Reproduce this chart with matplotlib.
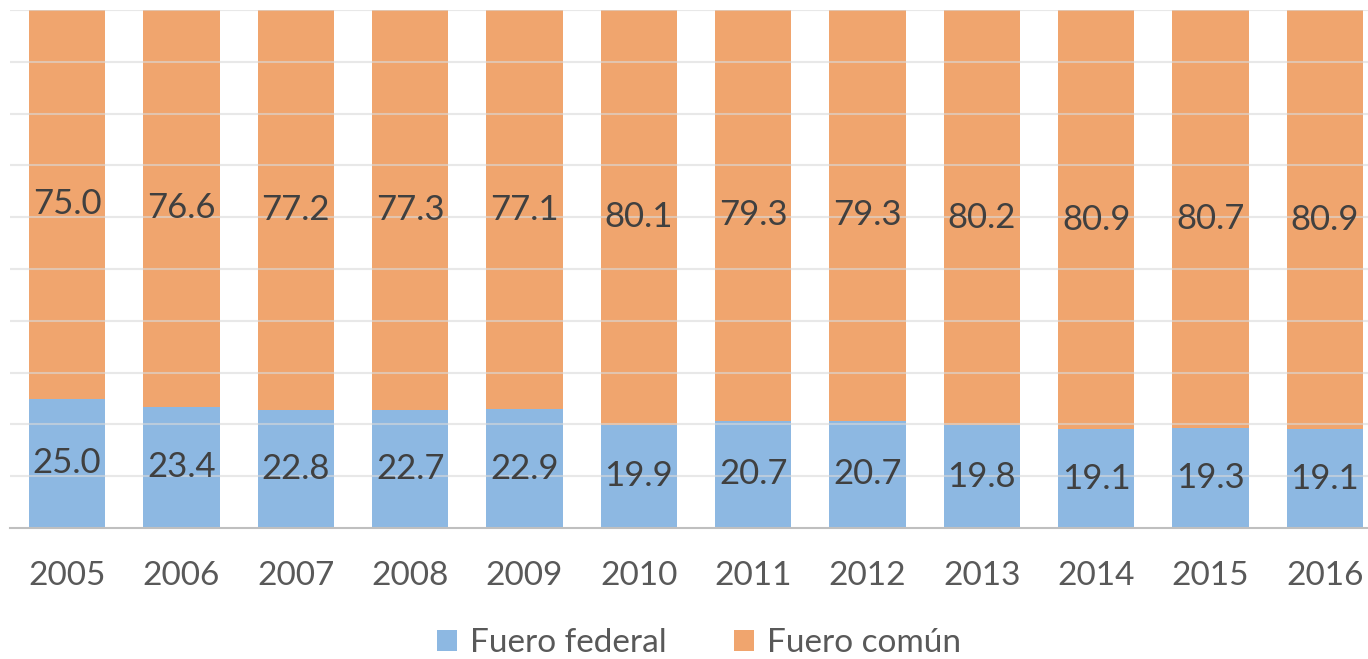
import matplotlib.pyplot as plt
import numpy as np

## datos
years = ['2005', '2006', '2007', '2008', '2009', '2010',
         '2011', '2012', '2013', '2014', '2015', '2016']
federal = [25.0, 23.4, 22.8, 22.7, 22.9, 19.9, 20.7, 20.7, 19.8, 19.1, 19.3, 19.1]
comun = [75.0, 76.6, 77.2, 77.3, 77.1, 80.1, 79.3, 79.3, 80.2, 80.9, 80.7, 80.9]

plt.rcParams['font.family'] = ['Lato', 'DejaVu Sans']

fig = plt.figure(figsize=(13.68, 6.59), dpi=100)
ax = fig.add_axes([10 / 1368, 1 - 528 / 659, 1372 / 1368, 518 / 659])

x = np.arange(len(years))
w = 0.665
b1 = ax.bar(x, federal, w, color='#8db8e2', label='Fuero federal', zorder=2)
b2 = ax.bar(x, comun, w, bottom=federal, color='#f0a56e', label='Fuero común', zorder=2)

for i in range(len(years)):
    ax.text(x[i], federal[i] / 2, '%.1f' % federal[i], ha='center', va='center',
            fontsize=25, color='#404040', zorder=4)
    ax.text(x[i], federal[i] + comun[i] / 2, '%.1f' % comun[i], ha='center', va='center',
            fontsize=25, color='#404040', zorder=4)

## grids
for g in range(10, 101, 10):
    ax.axhline(g, color='#d9d9d9', linewidth=1.5, alpha=0.6, zorder=3)

ax.set_xlim(-0.5, len(years) - 0.5)
ax.set_ylim(0, 100)
ax.set_xticks(x)
ax.set_xticklabels(years, fontsize=24, color='#595959')
ax.tick_params(axis='x', length=0, pad=24)
ax.set_yticks([])
for s in ['top', 'right', 'left']:
    ax.spines[s].set_visible(False)
ax.spines['bottom'].set_color('#bfbfbf')
ax.spines['bottom'].set_linewidth(1.5)
ax.spines['bottom'].set_zorder(5)

fig.legend(handles=[b1, b2], loc='center', bbox_to_anchor=(0.511, 0.024), ncol=2,
           frameon=False, fontsize=24, labelcolor='#595959', handlelength=0.6,
           handleheight=0.6, handletextpad=0.4, columnspacing=2.0)

fig.savefig('out.png', dpi=100)
